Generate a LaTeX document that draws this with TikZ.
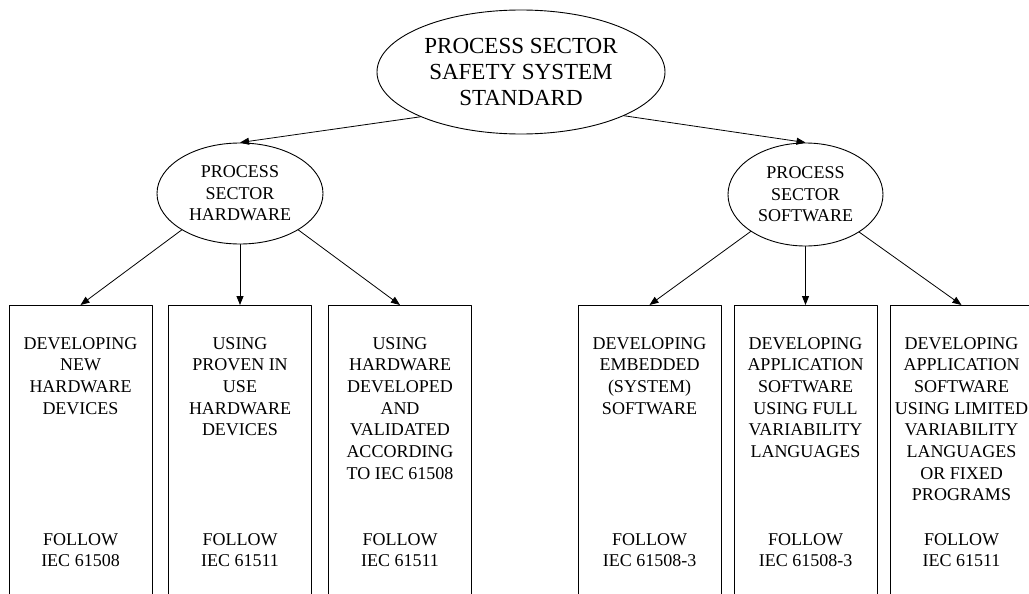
\documentclass[tikz,border=0pt]{standalone}
\usepackage{fontspec}
\setmainfont{Liberation Serif}
\usetikzlibrary{shapes}
\usetikzlibrary{arrows.meta}
\tikzset{
  sector/.style={draw,ellipse,inner sep=0pt,align=center,line width=0.9pt,font=\fontsize{18}{21.5}\selectfont},
  branch/.style={draw,rectangle,minimum width=143pt,minimum height=330pt,anchor=north,line width=0.9pt,inner sep=0pt},
  task/.style={anchor=north,align=center,inner sep=0pt,font=\fontsize{18}{21.67}\selectfont},
  link/.style={-{Triangle[length=9pt,width=7pt]},line width=0.8pt}
}
\begin{document}
\begin{tikzpicture}[x=1pt,y=-1pt,line cap=round,line join=round]
\useasboundingbox (0,0) rectangle (1029,594);
\clip (0,0) rectangle (1029,594);
% standard and the two sectors
\node[sector,minimum width=288pt,minimum height=124pt,font=\fontsize{23}{26}\selectfont] (pss) at (521,72) {PROCESS SECTOR\\SAFETY SYSTEM\\STANDARD};
\node[sector,minimum width=166pt,minimum height=101pt] (hw) at (240,193.5) {PROCESS\\SECTOR\\HARDWARE};
\node[sector,minimum width=155pt,minimum height=103pt] (sw) at (805.5,194.5) {PROCESS\\SECTOR\\SOFTWARE};
% hardware boxes
\node[branch] (hwnew) at (80.5,305) {};
\node[branch] (hwproven) at (240,305) {};
\node[branch] (hwcert) at (400,305) {};
\node[task] (hwnewtxt) at (80.5,337) {DEVELOPING\\NEW\\HARDWARE\\DEVICES};
\node[task] (hwproventxt) at (240,337) {USING\\PROVEN IN\\USE\\HARDWARE\\DEVICES};
\node[task] (hwcerttxt) at (400,337) {USING\\HARDWARE\\DEVELOPED\\AND\\VALIDATED\\ACCORDING\\TO IEC 61508};
\node[task] (hwnewstd) at (80.5,533) {FOLLOW\\IEC 61508};
\node[task] (hwprovenstd) at (240,533) {FOLLOW\\IEC 61511};
\node[task] (hwcertstd) at (400,533) {FOLLOW\\IEC 61511};
% software boxes
\node[branch] (swembed) at (649.5,305) {};
\node[branch] (swfull) at (805.5,305) {};
\node[branch] (swlimited) at (961.5,305) {};
\node[task] (swembedtxt) at (649.5,337) {DEVELOPING\\EMBEDDED\\(SYSTEM)\\SOFTWARE};
\node[task] (swfulltxt) at (805.5,337) {DEVELOPING\\APPLICATION\\SOFTWARE\\USING FULL\\VARIABILITY\\LANGUAGES};
\node[task] (swlimitedtxt) at (961.5,337) {DEVELOPING\\APPLICATION\\SOFTWARE\\USING LIMITED\\VARIABILITY\\LANGUAGES\\OR FIXED\\PROGRAMS};
\node[task] (swembedstd) at (649.5,533) {FOLLOW\\IEC 61508-3};
\node[task] (swfullstd) at (805.5,533) {FOLLOW\\IEC 61508-3};
\node[task] (swlimitedstd) at (961.5,533) {FOLLOW\\IEC 61511};
% arrows
\draw[link] (pss.204) -- (hw.north);
\draw[link] (pss.337) -- (sw.north);
\draw[link] (hw.212) -- (hwnew.north);
\draw[link] (hw.south) -- (hwproven.north);
\draw[link] (hw.328) -- (hwcert.north);
\draw[link] (sw.214.5) -- (swembed.north);
\draw[link] (sw.south) -- (swfull.north);
\draw[link] (sw.325.5) -- (swlimited.north);
\end{tikzpicture}
\end{document}
